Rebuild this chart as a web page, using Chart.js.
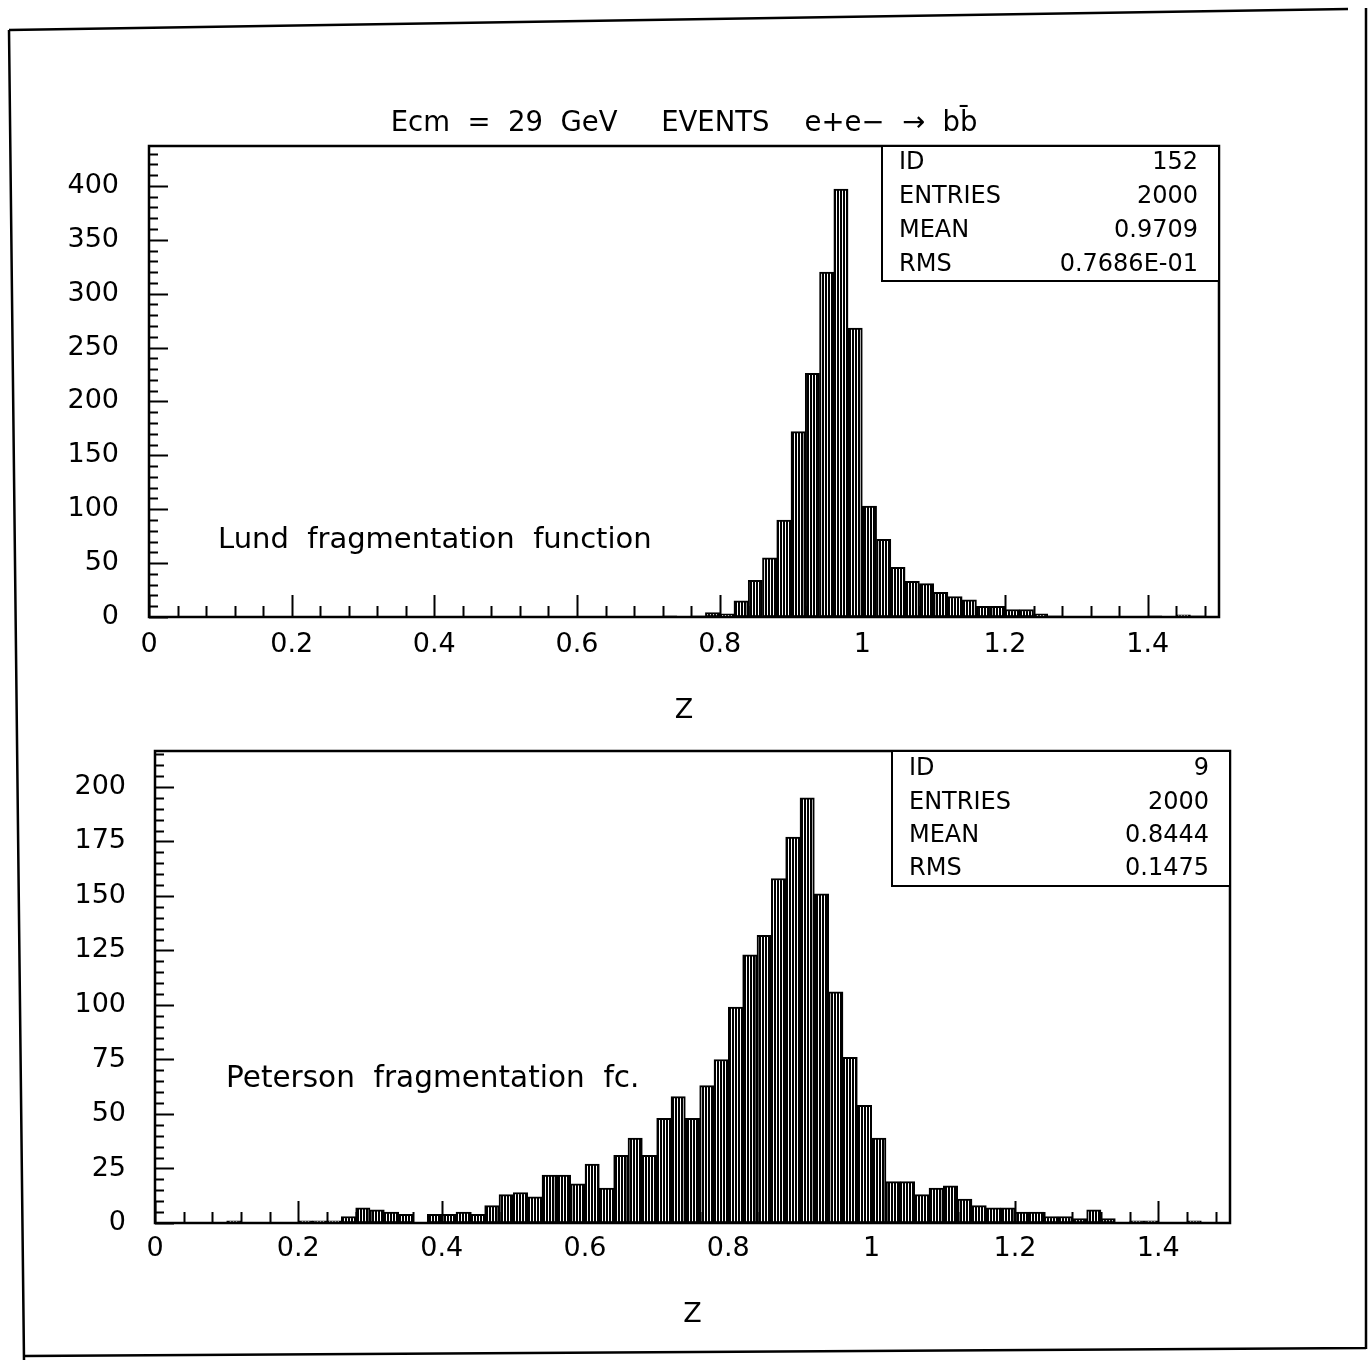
<!DOCTYPE html>
<html>
<head>
<meta charset="utf-8">
<title>Ecm = 29 GeV EVENTS e+e- → bb̄</title>
<script src="https://cdn.jsdelivr.net/npm/chart.js@4.4.1/dist/chart.umd.min.js"></script>
<style>
  html, body { margin: 0; padding: 0; background: #fff; }
  #page { position: relative; width: 1371px; height: 1360px; overflow: hidden; background: #fff; }
  #sheet { position: absolute; left: 0; top: 0; }
  #lund { position: absolute; left: 0; top: 0; }
  #peterson { position: absolute; left: 0; top: 740px; }
</style>
</head>
<body>
<div id="page">
  <canvas id="sheet" width="1371" height="1360"></canvas>
  <canvas id="lund" width="1371" height="740"></canvas>
  <canvas id="peterson" width="1371" height="620"></canvas>
</div>
<script>
// ---- histogram binning: 75 bins of width 0.02 in Z, lower edges ----
const BIN_WIDTH = 0.02;
const zBins = [
  0.00, 0.02, 0.04, 0.06, 0.08, 0.10, 0.12, 0.14, 0.16, 0.18,
  0.20, 0.22, 0.24, 0.26, 0.28, 0.30, 0.32, 0.34, 0.36, 0.38,
  0.40, 0.42, 0.44, 0.46, 0.48, 0.50, 0.52, 0.54, 0.56, 0.58,
  0.60, 0.62, 0.64, 0.66, 0.68, 0.70, 0.72, 0.74, 0.76, 0.78,
  0.80, 0.82, 0.84, 0.86, 0.88, 0.90, 0.92, 0.94, 0.96, 0.98,
  1.00, 1.02, 1.04, 1.06, 1.08, 1.10, 1.12, 1.14, 1.16, 1.18,
  1.20, 1.22, 1.24, 1.26, 1.28, 1.30, 1.32, 1.34, 1.36, 1.38,
  1.40, 1.42, 1.44, 1.46, 1.48
];

// ---- Lund fragmentation function, entries per bin (ID 152) ----
const lundCounts = [
  0, 0, 0, 0, 0, 0, 0, 0, 0, 0,
  0, 0, 0, 0, 0, 0, 0, 0, 0, 0,
  0, 0, 0, 0, 0, 0, 0, 0, 0, 0,
  0, 0, 0, 0, 0, 0, 1, 0, 1, 4,
  3, 15, 34, 55, 90, 172, 226, 320, 397, 268,
  103, 72, 46, 33, 31, 23, 19, 16, 10, 10,
  7, 7, 3, 1, 0, 0, 0, 0, 0, 0,
  1, 0, 2, 1, 0
];

// ---- Peterson fragmentation function, entries per bin (ID 9) ----
const petersonCounts = [
  0, 0, 0, 0, 0, 1, 0, 0, 0, 0,
  1, 1, 1, 3, 7, 6, 5, 4, 0, 4,
  4, 5, 4, 8, 13, 14, 12, 22, 22, 18,
  27, 16, 31, 39, 31, 48, 58, 48, 63, 75,
  99, 123, 132, 158, 177, 195, 151, 106, 76, 54,
  39, 19, 19, 13, 16, 17, 11, 8, 7, 7,
  5, 5, 3, 3, 2, 6, 2, 0, 1, 1,
  0, 0, 1, 0, 0
];

// ---- axis ticks and labels ----
const zTicks = [0, 0.2, 0.4, 0.6, 0.8, 1.0, 1.2, 1.4];
const zTickLabels = ['0', '0.2', '0.4', '0.6', '0.8', '1', '1.2', '1.4'];
const lundYTicks = [0, 50, 100, 150, 200, 250, 300, 350, 400];
const lundYLabels = ['0', '50', '100', '150', '200', '250', '300', '350', '400'];
const petersonYTicks = [0, 25, 50, 75, 100, 125, 150, 175, 200];
const petersonYLabels = ['0', '25', '50', '75', '100', '125', '150', '175', '200'];

// ---- statistics boxes ----
const lundStats = [['ID', '152'], ['ENTRIES', '2000'], ['MEAN', '0.9709'], ['RMS', '0.7686E-01']];
const petersonStats = [['ID', '9'], ['ENTRIES', '2000'], ['MEAN', '0.8444'], ['RMS', '0.1475']];

const titleText = 'Ecm  =  29  GeV     EVENTS    e+e\u2212  \u2192  bb\u0304';
const FONT = "'DejaVu Sans', 'Liberation Sans', sans-serif";

// vertical line hatching used to fill the histogram bins
function hatchPattern() {
  const c = document.createElement('canvas');
  c.width = 3; c.height = 3;
  const g = c.getContext('2d');
  g.fillStyle = '#fff'; g.fillRect(0, 0, 3, 3);
  g.fillStyle = '#000'; g.fillRect(0, 0, 2, 3);
  return g.createPattern(c, 'repeat');
}

// frame around the plot area with inward minor/major tick marks,
// plus the statistics box and the in-plot caption
const histDecor = {
  id: 'histDecor',
  afterDatasetsDraw(chart, args, o) {
    const { ctx, chartArea: a, scales: { x, y } } = chart;
    ctx.save();
    ctx.strokeStyle = '#000';
    ctx.lineWidth = 2;
    ctx.beginPath();
    // x ticks every 0.04, long ones at the labelled values
    for (let k = 0; k * 0.04 < 1.5 + 1e-9; k++) {
      const v = k * 0.04;
      const px = Math.round(x.getPixelForValue(v)) + 0.5;
      const major = zTicks.some(t => Math.abs(t - v) < 1e-6);
      ctx.moveTo(px, a.bottom);
      ctx.lineTo(px, a.bottom - (major ? 22 : 11));
    }
    // y ticks
    for (let v = 0; v <= y.max + 1e-9; v += o.yMinor) {
      const py = Math.round(y.getPixelForValue(v)) + 0.5;
      const major = Math.abs(v / o.yMajor - Math.round(v / o.yMajor)) < 1e-6;
      ctx.moveTo(a.left, py);
      ctx.lineTo(a.left + (major ? 19 : 9), py);
    }
    ctx.stroke();
    ctx.lineWidth = 2.5;
    ctx.strokeRect(a.left, a.top, a.right - a.left, a.bottom - a.top);

    // statistics box
    const bx = o.box;
    ctx.lineWidth = 2;
    ctx.fillStyle = '#fff';
    ctx.fillRect(bx.left, a.top, a.right - bx.left, bx.bottom - a.top);
    ctx.strokeRect(bx.left, a.top, a.right - bx.left, bx.bottom - a.top);
    ctx.fillStyle = '#000';
    ctx.font = '24px ' + FONT;
    ctx.textBaseline = 'middle';
    o.stats.forEach((row, i) => {
      const yy = bx.firstRow + i * bx.rowStep;
      ctx.textAlign = 'left';
      ctx.fillText(row[0], bx.left + 17, yy);
      ctx.textAlign = 'right';
      ctx.fillText(row[1], a.right - 21, yy);
    });

    // caption inside the plot
    ctx.font = o.captionSize + 'px ' + FONT;
    ctx.textAlign = 'left';
    ctx.fillText(o.caption, o.captionX, o.captionY);
    ctx.restore();
  }
};

function histogram(id, counts, cfg) {
  const canvas = document.getElementById(id);
  return new Chart(canvas, {
    type: 'bar',
    data: {
      datasets: [{
        data: zBins.map((z, i) => ({ x: z + BIN_WIDTH / 2, y: counts[i] })),
        backgroundColor: hatchPattern(),
        borderColor: '#000',
        borderWidth: 2,
        borderSkipped: false,
        barPercentage: 1,
        categoryPercentage: 1
      }]
    },
    options: {
      responsive: false,
      animation: false,
      events: [],
      layout: { padding: cfg.padding },
      plugins: {
        legend: { display: false },
        tooltip: { enabled: false },
        title: cfg.title,
        histDecor: cfg.decor
      },
      scales: {
        x: {
          type: 'linear',
          min: 0,
          max: 1.5,
          offset: false,
          grid: { display: false, drawTicks: false },
          border: { display: false },
          afterBuildTicks: s => { s.ticks = zTicks.map(v => ({ value: v })); },
          afterFit: s => { s.height = cfg.xHeight; s.paddingLeft = 0; s.paddingRight = 0; },
          ticks: {
            autoSkip: false,
            maxRotation: 0,
            padding: cfg.xPad,
            color: '#000',
            font: { family: FONT, size: 27 },
            callback: (v, i) => zTickLabels[i]
          },
          title: {
            display: true,
            text: 'Z',
            color: '#000',
            font: { family: FONT, size: 27 },
            padding: { top: 0, bottom: cfg.zPad }
          }
        },
        y: {
          min: 0,
          max: cfg.yMax,
          grid: { display: false, drawTicks: false },
          border: { display: false },
          afterBuildTicks: s => { s.ticks = cfg.yTicks.map(v => ({ value: v })); },
          afterFit: s => { s.width = cfg.yWidth; s.paddingTop = 0; s.paddingBottom = 0; },
          ticks: {
            padding: cfg.yPad,
            color: '#000',
            font: { family: FONT, size: 27 },
            callback: (v, i) => cfg.yLabels[i]
          }
        }
      }
    },
    plugins: [histDecor]
  });
}

Chart.defaults.font.family = FONT;

histogram('lund', lundCounts, {
  padding: { left: 0, right: 152, top: 0, bottom: 0 },
  title: {
    display: true,
    text: titleText,
    fullSize: false,
    color: '#000',
    font: { family: FONT, size: 27.5, weight: 'normal' },
    padding: { top: 107, bottom: 6 }
  },
  xHeight: 123, xPad: 12, zPad: 13,
  yWidth: 149, yPad: 30, yMax: 437,
  yTicks: lundYTicks, yLabels: lundYLabels,
  decor: {
    yMinor: 10, yMajor: 50,
    stats: lundStats,
    box: { left: 882, bottom: 281, firstRow: 163, rowStep: 34 },
    caption: 'Lund  fragmentation  function',
    captionSize: 29, captionX: 218, captionY: 540
  }
});

histogram('peterson', petersonCounts, {
  padding: { left: 0, right: 141, top: 11, bottom: 0 },
  title: { display: false },
  xHeight: 137, xPad: 10, zPad: 29,
  yWidth: 155, yPad: 29, yMax: 216.5,
  yTicks: petersonYTicks, yLabels: petersonYLabels,
  decor: {
    yMinor: 5, yMajor: 25,
    stats: petersonStats,
    box: { left: 892, bottom: 146, firstRow: 29, rowStep: 33.4 },
    caption: 'Peterson  fragmentation  fc.',
    captionSize: 29.5, captionX: 226, captionY: 339
  }
});

// page border around the sheet
(function drawSheet() {
  const g = document.getElementById('sheet').getContext('2d');
  g.strokeStyle = '#000';
  g.lineWidth = 2.5;
  g.beginPath();
  g.moveTo(9, 30); g.lineTo(1348, 9);
  g.moveTo(1366, 8); g.lineTo(1366, 1349);
  g.moveTo(9, 30); g.lineTo(24, 1360);
  g.moveTo(24, 1356); g.lineTo(1366, 1348);
  g.stroke();
})();
</script>
</body>
</html>
